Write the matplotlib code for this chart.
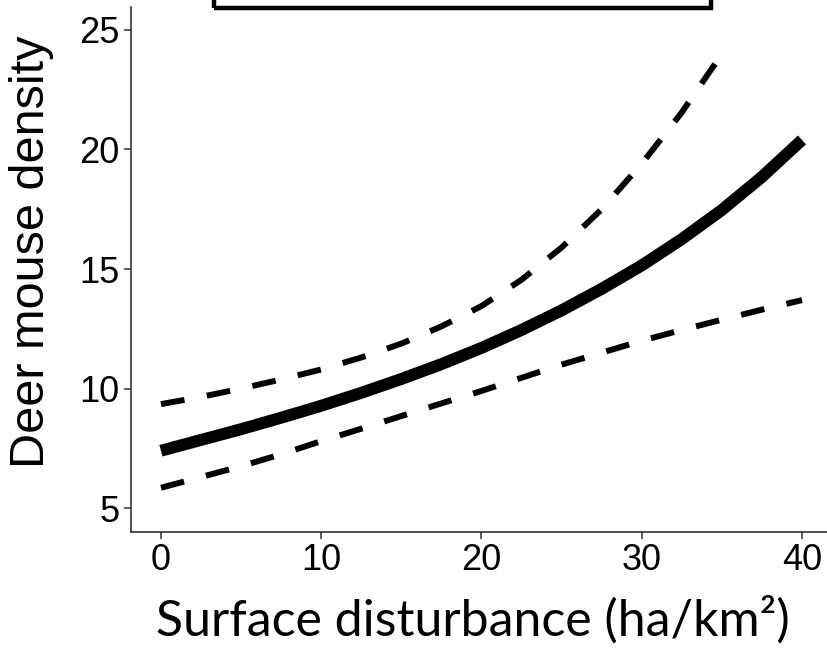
import matplotlib
matplotlib.use("Agg")
import matplotlib.pyplot as plt
from matplotlib.patches import Rectangle

plt.rcParams["font.family"] = ["Liberation Sans", "DejaVu Sans"]

# values
fit_x = [0, 2.5, 5, 7.5, 10, 12.5, 15, 17.5, 20, 22.5, 25, 27.5, 30, 32.5, 35, 37.5, 40]
fit_y = [7.4, 7.85, 8.3, 8.78, 9.28, 9.82, 10.4, 11.02, 11.7, 12.45, 13.27, 14.17,
         15.15, 16.25, 17.47, 18.85, 20.4]

upper_x = [0, 2.5, 5, 7.5, 10, 12.5, 15, 17.5, 20, 22.5, 25, 27.5, 30, 32.5, 34.7]
upper_y = [9.35, 9.65, 10.0, 10.38, 10.8, 11.3, 11.88, 12.6, 13.45, 14.55, 15.9,
           17.5, 19.4, 21.55, 23.7]

lower_x = [0, 2.5, 5, 7.5, 10, 12.5, 15, 17.5, 20, 22.5, 25, 27.5, 30, 32.5, 35, 37.5, 40]
lower_y = [5.85, 6.3, 6.75, 7.25, 7.8, 8.32, 8.85, 9.38, 9.9, 10.45, 11.0, 11.5,
           12.0, 12.45, 12.88, 13.3, 13.7]

x_ticks = [0, 10, 20, 30, 40]
y_ticks = [5, 10, 15, 20, 25]

W, H = 828, 652
fig = plt.figure(figsize=(W / 100, H / 100), dpi=100)
ax = fig.add_axes([130.5 / W, (H - 532) / H, (834 - 130.5) / W, (532 - 7) / H])

ax.plot(fit_x, fit_y, color="black", lw=8.6, solid_capstyle="butt",
        solid_joinstyle="round")
for xs, ys in [(upper_x, upper_y), (lower_x, lower_y)]:
    ax.plot(xs, ys, color="black", lw=4.3, dashes=(4, 3.8), dash_capstyle="butt")

ax.set_xlim(-1.9, 42)
ax.set_ylim(4.0, 25.96)
ax.set_xticks(x_ticks)
ax.set_yticks(y_ticks)
for s in ["top", "right"]:
    ax.spines[s].set_visible(False)
for s in ["left", "bottom"]:
    ax.spines[s].set_linewidth(1.1)
    ax.spines[s].set_color("#222222")
ax.tick_params(length=5, width=1.1, color="#333333", labelsize=26, pad=3)

fig.text(32 / W, (H - 252) / H, "Deer mouse density", rotation=90,
         ha="center", va="center", fontsize=35)
fig.text(473 / W, (H - 636) / H, "Surface disturbance (ha/km²)",
         ha="center", va="baseline", fontsize=36, fontfamily="Lato")

# box cut off at the top
fig.patches.append(Rectangle((214 / W, (H - 8) / H), (711 - 214) / W, 20 / H,
                             transform=fig.transFigure, fill=False,
                             edgecolor="black", lw=3.2))

fig.savefig("out.png", dpi=100)
